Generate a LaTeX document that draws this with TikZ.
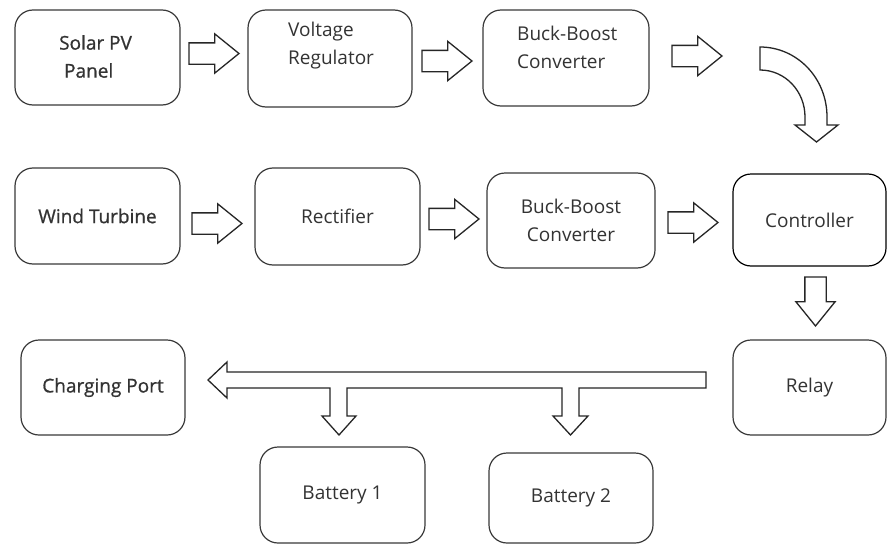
\documentclass[tikz,border=0pt]{standalone}
\usepackage{fontspec}
\setmainfont{Open Sans}
\newfontfamily\semifont[FakeBold=0.8]{Open Sans}
\usetikzlibrary{shapes.arrows,calc}
\definecolor{edgegray}{HTML}{3A3A3A}
\definecolor{inkgray}{HTML}{333333}

\begin{document}
\begin{tikzpicture}[x=1pt,y=-1pt,
  blk/.style={draw=edgegray,line width=1.2pt,rounded corners=18pt,minimum width=165pt,minimum height=95pt,inner sep=0pt,text=inkgray,font=\fontsize{19}{28}\selectfont,align=center},
  lbl/.style={text=inkgray,font=\fontsize{19}{28}\selectfont,align=left,inner sep=0pt},
  fat/.style={single arrow,draw=black!85,line width=1.3pt,fill=white,inner xsep=0pt,inner ysep=10pt,single arrow head extend=9pt,single arrow tip angle=78,single arrow head indent=0pt,minimum height=50pt,minimum width=0pt,anchor=tip},
  fatline/.style={draw=black!85,line width=1.3pt,fill=white,line join=miter}]
  \fill[white] (0,0) rectangle (889,546);
  \useasboundingbox (0,0) rectangle (889,546);

  % first row: solar side
  \node[blk] (solar) at (97.5,57.5) {};
  \node[lbl,anchor=west] (solartxt) at (59,56.5) {\semifont Solar PV\\\semifont\ Panel};
  \node[blk,minimum width=164pt,minimum height=97pt] (vreg) at (330,58.5) {};
  \node[lbl,anchor=west] (vregtxt) at (288,46) {Voltage\\Regulator};
  \node[blk,minimum width=166pt,minimum height=96pt] (bbone) at (566,58) {};
  \node[lbl,anchor=west] (bbonetxt) at (517,47) {Buck-Boost\\Converter};

  % second row: wind side
  \node[blk,minimum height=96pt] (wind) at (97.5,216) {\semifont Wind Turbine};
  \node[blk,minimum height=97pt] (rect) at (337.5,216.5) {Rectifier};
  \node[blk,minimum width=168pt] (bbtwo) at (571,220.5) {Buck-Boost\\Converter};
  \node[blk,minimum width=153pt,minimum height=92pt,draw=black] (ctrl) at (809.5,220) {Controller};

  % third row
  \node[blk,minimum width=153pt] (relay) at (809.5,387.5) {Relay};
  \node[blk,minimum width=164pt] (charge) at (103,387.5) {\semifont Charging Port};
  \node[blk,minimum height=96pt] (batone) at (342.5,495) {Battery 1};
  \node[blk,minimum width=164pt,minimum height=90pt] (battwo) at (571,498) {Battery 2};

  % block arrows
  \node[fat] (aone) at (240,53.5) {};
  \node[fat] (atwo) at (473,61) {};
  \node[fat] (athree) at (723,56) {};
  \node[fat] (bone) at (243,223.5) {};
  \node[fat] (btwo) at (480,219) {};
  \node[fat] (bthree) at (719,222.5) {};
  \node[fat,rotate=-90,minimum height=49pt] (cdown) at (815.5,327) {};

  % bent arrow down to the controller
  \draw[fatline] (760,47) .. controls (797,47) and (827,78) .. (827,117) -- (827,125)
    -- (838,125) -- (816.5,142) -- (795,125) -- (805,125) -- (805,117)
    .. controls (805,91) and (785,70) .. (760,70) -- cycle;

  % bus from relay to port and batteries
  \draw[fatline] (706,372) -- (227,372) -- (227,362) -- (208,380) -- (227,398) -- (227,388)
    -- (330,388) -- (330,416) -- (322,416) -- (339,435) -- (356,416) -- (347,416) -- (347,388)
    -- (562,388) -- (562,416) -- (553,416) -- (570.5,435) -- (588,416) -- (579,416) -- (579,388)
    -- (706,388) -- cycle;
\end{tikzpicture}
\end{document}
